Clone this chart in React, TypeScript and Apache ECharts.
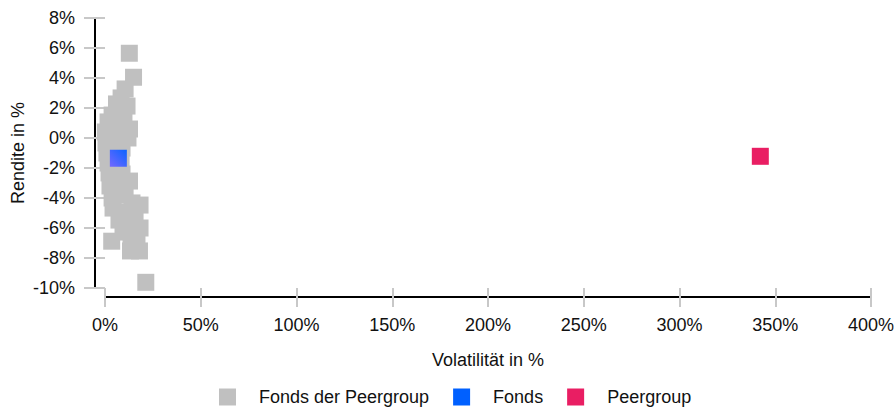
import React, { useEffect, useRef } from "react";
import * as echarts from "echarts";

const peerFundsVolatility = [
  12.7, 14.9, 10.5, 8.4, 6.0, 11.5, 3.7, 9.9, 1.6, 12.8, 0.2, 5.2, 7.8, 0.5, 12.0,
  1.0, 8.9, 1.6, 8.4, 2.1, 8.9, 12.8, 2.6, 6.8, 3.7, 10.5, 18.3, 14.1, 4.2, 9.9,
  15.7, 7.3, 12.0, 18.3, 9.4, 3.5, 13.6, 18.0, 13.3, 21.3, 16.7,
];
const peerFundsReturn = [
  5.65, 4.05, 3.27, 2.67, 2.27, 2.13, 1.53, 1.47, 1.07, 0.6, 0.4, 0.8, 0.0, -0.33, 0.0,
  -1.0, -0.67, -1.67, -1.67, -2.33, -2.4, -2.87, -3.2, -3.47, -4.0, -3.8, -4.47, -4.33, -4.67, -4.93,
  -5.33, -5.47, -5.87, -6.0, -6.27, -6.88, -6.53, -7.53, -7.53, -9.62, -6.67,
];
const fundPoint = [6.97, -1.35];
const peergroupPoint = [342.2, -1.22];

const seriesNames = ["Fonds der Peergroup", "Fonds", "Peergroup"];
const xAxisTitle = "Volatilität in %";
const yAxisTitle = "Rendite in %";
const xRange = [0, 400, 50];
const yRange = [-10, 8, 2];

const GRAY = "#c0c0c0";
const BLUE = "#0060ff";
const PINK = "#e91e63";
const TICK = "#c8c8c8";
const FONT = "'Liberation Sans', Arial, sans-serif";

export default function App() {
  const ref = useRef<HTMLDivElement>(null);
  useEffect(() => {
    document.body.style.margin = "0";
    if (!ref.current) return;
    const chart = echarts.init(ref.current, null, { renderer: "svg" });
    const labelStyle = { color: "#111111", fontSize: 18, fontFamily: FONT };
    const peerData = peerFundsVolatility.map((v, i) => [v, peerFundsReturn[i]]);
    chart.setOption({
      animation: false,
      grid: {
        left: 105,
        right: 23,
        top: 18,
        bottom: 119,
        containLabel: false,
        outerBoundsMode: "none",
      },
      legend: {
        left: 219,
        top: 388,
        padding: 0,
        itemWidth: 17,
        itemHeight: 17,
        itemGap: 24,
        icon: "rect",
        textStyle: { color: "#111111", fontSize: 18, fontFamily: FONT, padding: [0, 0, 0, 18] },
        data: [
          { name: seriesNames[0], itemStyle: { color: GRAY } },
          { name: seriesNames[1], itemStyle: { color: BLUE } },
          { name: seriesNames[2], itemStyle: { color: PINK } },
        ],
      },
      xAxis: [
        {
          type: "value",
          position: "bottom",
          offset: 9,
          min: xRange[0],
          max: xRange[1],
          interval: xRange[2],
          name: xAxisTitle,
          nameLocation: "middle",
          nameGap: 54,
          nameMoveOverlap: false,
          nameTextStyle: labelStyle,
          axisLine: { show: true, onZero: false, lineStyle: { color: "#000", width: 2 } },
          axisTick: { show: true, length: 10, lineStyle: { color: TICK, width: 2 } },
          axisLabel: { ...labelStyle, margin: 19, formatter: "{value}%" },
          splitLine: { show: false },
        },
        {
          type: "value",
          position: "bottom",
          offset: 0,
          min: xRange[0],
          max: xRange[1],
          interval: xRange[2],
          axisLine: { show: false, onZero: false },
          axisTick: { show: true, length: 9, lineStyle: { color: TICK, width: 2 } },
          axisLabel: { show: false },
          splitLine: { show: false },
        },
      ],
      yAxis: [
        {
          type: "value",
          position: "left",
          offset: 10,
          min: yRange[0],
          max: yRange[1],
          interval: yRange[2],
          name: yAxisTitle,
          nameLocation: "middle",
          nameGap: 68,
          nameMoveOverlap: false,
          nameRotate: 90,
          nameTextStyle: labelStyle,
          axisLine: { show: true, onZero: false, lineStyle: { color: "#000", width: 2 } },
          axisTick: { show: true, length: 11, lineStyle: { color: TICK, width: 2 } },
          axisLabel: { ...labelStyle, margin: 20, formatter: "{value}%" },
          splitLine: { show: false },
        },
        {
          type: "value",
          position: "left",
          offset: 0,
          min: yRange[0],
          max: yRange[1],
          interval: yRange[2],
          axisLine: { show: false, onZero: false },
          axisTick: { show: true, length: 10, lineStyle: { color: TICK, width: 2 } },
          axisLabel: { show: false },
          splitLine: { show: false },
        },
      ],
      series: [
        {
          name: seriesNames[0],
          type: "scatter",
          symbol: "rect",
          symbolSize: 17,
          itemStyle: { color: GRAY, opacity: 1 },
          data: peerData,
          z: 2,
        },
        {
          name: seriesNames[1],
          type: "scatter",
          symbol: "rect",
          symbolSize: 17,
          itemStyle: {
            opacity: 1,
            color: new echarts.graphic.LinearGradient(0, 1, 1, 0, [
              { offset: 0, color: "#7468ff" },
              { offset: 1, color: "#0a64ff" },
            ]),
          },
          data: [fundPoint],
          z: 3,
        },
        {
          name: seriesNames[2],
          type: "scatter",
          symbol: "rect",
          symbolSize: 17,
          itemStyle: { color: PINK, opacity: 1 },
          data: [peergroupPoint],
          z: 4,
        },
      ],
    });
    return () => chart.dispose();
  }, []);
  return <div ref={ref} style={{ width: 894, height: 407 }} />;
}
